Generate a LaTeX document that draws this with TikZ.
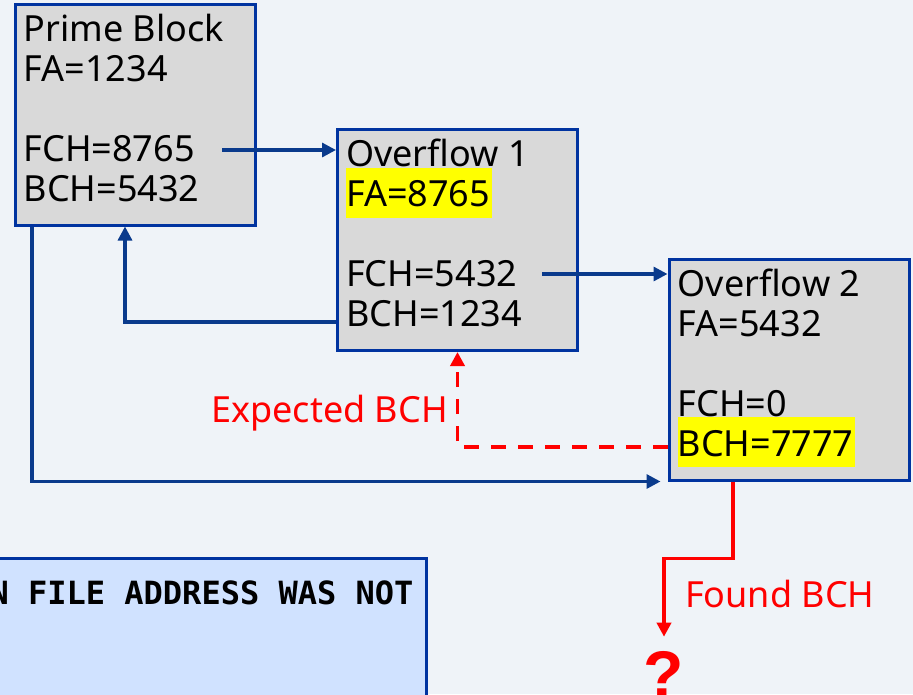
\documentclass[tikz,border=0pt]{standalone}
\usepackage{fontspec}
\setmainfont{Noto Sans}
\setmonofont{DejaVu Sans Mono}
\newfontfamily\qfont{Liberation Sans}
\usetikzlibrary{arrows.meta}

\definecolor{bgcol}{HTML}{EFF3F8}
\definecolor{boxgray}{HTML}{D9D9D9}
\definecolor{navy}{HTML}{0033A0}
\definecolor{arrownavy}{HTML}{0A3A8C}
\definecolor{notefill}{HTML}{D0E2FF}
\definecolor{hlyellow}{HTML}{FFFF00}

\newcommand{\hlt}[1]{\smash{\setlength{\fboxsep}{0pt}\colorbox{hlyellow}{\rule[-11pt]{0pt}{50pt}#1\kern2pt}}}
\newcommand{\firstline}{\rule{0pt}{30pt}}

\begin{document}
\begin{tikzpicture}[
  x=1pt, y=-1pt,
  blk/.style={draw=navy, line width=3pt, fill=boxgray, minimum width=240pt, minimum height=221pt, inner sep=0pt},
  blktxt/.style={anchor=north west, align=left, inner sep=0pt, font=\fontsize{36}{40}\selectfont},
  arr/.style={-{Triangle[length=14pt, width=14pt]}, draw=arrownavy, line width=3.2pt},
  redarr/.style={-{Triangle[length=14pt, width=14pt]}, draw=red, line width=3.5pt},
  redlbl/.style={text=red, inner sep=0pt, font=\fontsize{36}{40}\selectfont},
  notebox/.style={draw=navy, line width=3pt, fill=notefill, inner sep=0pt}
]
\useasboundingbox (0,0) rectangle (913,694);
\fill[bgcol] (0,0) rectangle (913,694);
\clip (0,0) rectangle (913,694);

% blocks
\node[blk] (prime) at (135,114.5) {};
\node[blk] (ov1) at (457.5,240) {};
\node[blk] (ov2) at (789,369.5) {};

\node[blktxt] (primetxt) at ([shift={(10,8.5)}]prime.north west)
  {\firstline Prime Block\\FA=1234\\[40pt]FCH=8765\\BCH=5432};
\node[blktxt] (ov1txt) at ([shift={(10,8.5)}]ov1.north west)
  {\firstline Overflow 1\\\hlt{FA=8765}\\[40pt]FCH=5432\\BCH=1234};
\node[blktxt] (ov2txt) at ([shift={(10,8.5)}]ov2.north west)
  {\firstline Overflow 2\\FA=5432\\[40pt]FCH=0\\\hlt{BCH=7777}};

% note box at the bottom
\node[notebox, anchor=north east, minimum width=470pt, minimum height=160pt] (note) at (428,557) {};
\node[anchor=base west, inner sep=0pt, font=\fontsize{32}{36}\selectfont\ttfamily\bfseries] (notetxt) at (-10.6,604) {N FILE ADDRESS WAS NOT};

% chain pointers
\coordinate (pfch) at (222,150);
\coordinate (ofch) at (542,274);
\draw[arr] (pfch) -- (pfch -| ov1.west);
\draw[arr] (ofch) -- (ofch -| ov2.west);
\draw[arr] ([yshift=-82pt]ov1.west) -| ([xshift=-10pt]prime.south);
\draw[arr, shorten >=7pt] ([xshift=-103pt]prime.south) |- (ov2.south west);

% broken back chain
\node[redlbl, anchor=base east] (expect) at (448,422) {Expected BCH};
\node[redlbl, anchor=base west] (found) at (685,607) {Found BCH};
\node[anchor=base, inner sep=0pt, text=red, font=\fontsize{66}{66}\qfont\bfseries] (quest) at (664,697) {?};
\draw[redarr, dash pattern=on 15pt off 12pt] ([yshift=-77.5pt]ov2.west) -| (ov1.south);
\draw[redarr, shorten >=14pt] ([xshift=-56pt]ov2.south) -- ++(0,77) -| (quest.north);
\end{tikzpicture}
\end{document}
